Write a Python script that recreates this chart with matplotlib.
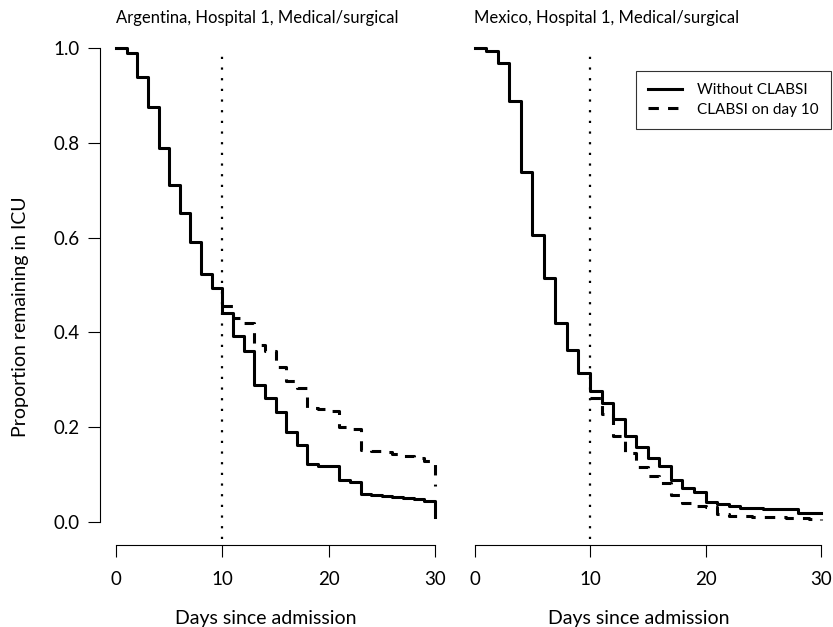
import matplotlib
matplotlib.use("Agg")
import matplotlib.pyplot as plt

plt.rcParams['font.family'] = ['Lato', 'DejaVu Sans']

# days since admission (0..30) and days after the infection on day 10
days = list(range(0, 31))
days_clabsi = list(range(10, 31))

# proportion remaining in ICU
arg_without = [1.000, 0.989, 0.939, 0.875, 0.788, 0.712, 0.651, 0.591, 0.523, 0.493,
               0.440, 0.392, 0.361, 0.290, 0.262, 0.232, 0.189, 0.162, 0.122, 0.118,
               0.118, 0.088, 0.084, 0.060, 0.058, 0.055, 0.053, 0.051, 0.048, 0.045,
               0.011]
arg_clabsi = [0.455, 0.430, 0.419, 0.373, 0.361, 0.327, 0.298, 0.282, 0.240, 0.238,
              0.234, 0.201, 0.196, 0.152, 0.150, 0.147, 0.143, 0.139, 0.134, 0.129,
              0.075]
mex_without = [1.000, 0.994, 0.968, 0.889, 0.739, 0.605, 0.514, 0.419, 0.363, 0.314,
               0.277, 0.252, 0.217, 0.181, 0.158, 0.136, 0.118, 0.089, 0.071, 0.064,
               0.043, 0.039, 0.034, 0.030, 0.029, 0.028, 0.028, 0.027, 0.020, 0.019,
               0.018]
mex_clabsi = [0.262, 0.228, 0.181, 0.146, 0.117, 0.097, 0.083, 0.057, 0.041, 0.034,
              0.031, 0.016, 0.013, 0.012, 0.011, 0.010, 0.010, 0.009, 0.008, 0.006,
              0.005]

titles = ["Argentina, Hospital 1, Medical/surgical", "Mexico, Hospital 1, Medical/surgical"]
legend_labels = ["Without CLABSI", "CLABSI on day 10"]
x_ticks = [0, 10, 20, 30]
y_ticks = [0.0, 0.2, 0.4, 0.6, 0.8, 1.0]
infection_day = 10

W, H = 833, 627
fig = plt.figure(figsize=(W / 100, H / 100), dpi=100)

# pixel layout of the original: y=0 at 522px, y=1 at 48px, axis lines at x=100 / y=545
Y0, Y1, AX_BOTTOM, AX_TOP = 522, 48, 545, 29
sy = (Y0 - Y1) / 1.0


def make_panel(px_left, px_right, x0, x30):
    sx = (x30 - x0) / 30.0
    ax = fig.add_axes([px_left / W, 1 - AX_BOTTOM / H,
                       (px_right - px_left) / W, (AX_BOTTOM - AX_TOP) / H])
    ax.set_xlim((px_left - x0) / sx, (px_right - x0) / sx)
    ax.set_ylim((Y0 - AX_BOTTOM) / sy, (Y0 - AX_TOP) / sy)
    ax.patch.set_visible(False)
    for s in ["top", "right"]:
        ax.spines[s].set_visible(False)
    ax.spines["bottom"].set_bounds(0, 30)
    ax.spines["left"].set_bounds(0, 1)
    for s in ["bottom", "left"]:
        ax.spines[s].set_linewidth(0.8)
    ax.set_xticks(x_ticks)
    ax.set_xticklabels([str(t) for t in x_ticks])
    ax.tick_params(axis="x", length=8.5, width=0.8, labelsize=13.5, pad=10)
    ax.tick_params(axis="y", length=8.5, width=0.8, labelsize=13.5, pad=6)
    return ax


ax1 = make_panel(100, 448, 116, 435)
ax2 = make_panel(458, 828, 474.5, 821)

panels = [(ax1, arg_without, arg_clabsi), (ax2, mex_without, mex_clabsi)]
for i, (ax, without, clabsi) in enumerate(panels):
    ax.step(days, without, where="post", color="black", lw=2.2, label=legend_labels[0])
    ax.step(days_clabsi, clabsi, where="post", color="black", lw=2.2,
            linestyle=(0, (3.4, 3.0)), label=legend_labels[1])
    ax.plot([infection_day, infection_day], [-0.035, 0.985], color="black",
            lw=1.6, linestyle=(0, (1, 3.8)))
    ax.text(0, 1.063, titles[i], ha="left", va="center", fontsize=12)
    ax.set_xlabel("Days since admission", fontsize=14)
    ax.xaxis.set_label_coords(0.477 if i == 0 else 0.489, -0.126)

ax1.set_yticks(y_ticks)
ax1.set_yticklabels(["%.1f" % t for t in y_ticks])
ax2.spines["left"].set_visible(False)
ax2.set_yticks([])

fig.text(21 / W, 1 - 317 / H, "Proportion remaining in ICU", rotation=90,
         ha="center", va="center", fontsize=14)

leg = ax2.legend(loc="upper left", bbox_to_anchor=(636 / W, 1 - 71 / H),
                 bbox_transform=fig.transFigure, fontsize=11, frameon=True,
                 fancybox=False, borderaxespad=0, borderpad=0.8, handlelength=2.2,
                 handletextpad=1.0, labelspacing=0.35)
leg.get_frame().set_edgecolor("black")
leg.get_frame().set_linewidth(0.8)

fig.savefig("out.png", dpi=100)
